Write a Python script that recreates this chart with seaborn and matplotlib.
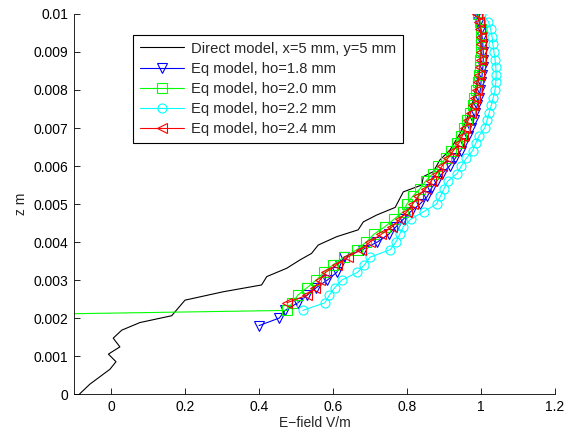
import matplotlib
matplotlib.use("Agg")
import matplotlib.pyplot as plt
import seaborn as sns
import pandas as pd
from matplotlib.ticker import FuncFormatter

# Direct model
direct_x = [-0.085, -0.057, -0.003, 0.0135, -0.007, 0.024, 0.006, 0.029, 0.078, 0.164,
            0.200, 0.303, 0.407, 0.421, 0.475, 0.511, 0.542, 0.560, 0.610, 0.668,
            0.682, 0.718, 0.768, 0.790, 0.840, 0.844, 0.871, 0.889, 0.916, 0.940,
            0.960, 0.975, 0.985, 0.995, 1.000, 1.000, 0.995]
direct_z = [0.0, 0.00026, 0.00065, 0.00085, 0.00105, 0.00124, 0.00147, 0.00168, 0.00188, 0.00206,
            0.00247, 0.00269, 0.00287, 0.00309, 0.00331, 0.00353, 0.0037, 0.00392, 0.00414, 0.00432,
            0.00453, 0.00471, 0.00491, 0.00532, 0.0055, 0.00572, 0.00585, 0.00616, 0.00642, 0.0068,
            0.0072, 0.0076, 0.0080, 0.0085, 0.0090, 0.0095, 0.0100]

# Eq model ho=1.8 mm
h18_x = [0.400, 0.455, 0.470, 0.505, 0.530, 0.555, 0.585, 0.610, 0.620, 0.630,
         0.680, 0.720, 0.750, 0.770, 0.790, 0.810, 0.835, 0.855, 0.865, 0.880,
         0.895, 0.915, 0.930, 0.945, 0.955, 0.965, 0.972, 0.980, 0.985, 0.990,
         0.995, 0.998, 1.000, 1.003, 1.005, 1.006, 1.006, 1.005, 1.003, 1.000,
         0.995, 0.988]
h18_z = [0.0018, 0.0020, 0.0022, 0.0024, 0.0026, 0.0028, 0.0030, 0.0032, 0.0034, 0.0036,
         0.0038, 0.0040, 0.0042, 0.0044, 0.0046, 0.0048, 0.0050, 0.0052, 0.0054, 0.0056,
         0.0058, 0.0060, 0.0062, 0.0064, 0.0066, 0.0068, 0.0070, 0.0072, 0.0074, 0.0076,
         0.0078, 0.0080, 0.0082, 0.0084, 0.0086, 0.0088, 0.0090, 0.0092, 0.0094, 0.0096,
         0.0098, 0.0100]

# Eq model ho=2.0 mm
h20_x = [-0.850, 0.475, 0.490, 0.505, 0.530, 0.555, 0.575, 0.600, 0.630, 0.665,
         0.690, 0.710, 0.740, 0.765, 0.790, 0.800, 0.815, 0.835, 0.850, 0.870,
         0.885, 0.905, 0.920, 0.935, 0.945, 0.955, 0.963, 0.970, 0.977, 0.982,
         0.987, 0.991, 0.994, 0.996, 0.998, 0.999, 1.000, 1.000, 0.999, 0.997,
         0.993]
h20_z = [0.0020, 0.0022, 0.0024, 0.0026, 0.0028, 0.0030, 0.0032, 0.0034, 0.0036, 0.0038,
         0.0040, 0.0042, 0.0044, 0.0046, 0.0048, 0.0050, 0.0052, 0.0054, 0.0056, 0.0058,
         0.0060, 0.0062, 0.0064, 0.0066, 0.0068, 0.0070, 0.0072, 0.0074, 0.0076, 0.0078,
         0.0080, 0.0082, 0.0084, 0.0086, 0.0088, 0.0090, 0.0092, 0.0094, 0.0096, 0.0098,
         0.0100]

# Eq model ho=2.2 mm
h22_x = [0.518, 0.578, 0.590, 0.605, 0.624, 0.666, 0.685, 0.700, 0.755, 0.770,
         0.780, 0.790, 0.810, 0.845, 0.880, 0.890, 0.900, 0.910, 0.935, 0.947,
         0.960, 0.977, 0.986, 0.995, 1.010, 1.016, 1.022, 1.028, 1.033, 1.038,
         1.040, 1.041, 1.040, 1.038, 1.035, 1.032, 1.030, 1.026, 1.020, 1.000]
h22_z = [0.0022, 0.0024, 0.0026, 0.0028, 0.0030, 0.0032, 0.0034, 0.0036, 0.0038, 0.0040,
         0.0042, 0.0044, 0.0046, 0.0048, 0.0050, 0.0052, 0.0054, 0.0056, 0.0058, 0.0060,
         0.0062, 0.0064, 0.0066, 0.0068, 0.0070, 0.0072, 0.0074, 0.0076, 0.0078, 0.0080,
         0.0082, 0.0084, 0.0086, 0.0088, 0.0090, 0.0092, 0.0094, 0.0096, 0.0098, 0.0100]

# Eq model ho=2.4 mm
h24_x = [0.475, 0.530, 0.550, 0.565, 0.580, 0.610, 0.640, 0.675, 0.700, 0.730,
         0.760, 0.780, 0.800, 0.815, 0.830, 0.850, 0.865, 0.880, 0.895, 0.910,
         0.925, 0.940, 0.950, 0.958, 0.965, 0.972, 0.978, 0.984, 0.988, 0.992,
         0.995, 0.997, 0.999, 1.000, 1.000, 1.000, 0.998, 0.995, 0.990]
h24_z = [0.0024, 0.0026, 0.0028, 0.0030, 0.0032, 0.0034, 0.0036, 0.0038, 0.0040, 0.0042,
         0.0044, 0.0046, 0.0048, 0.0050, 0.0052, 0.0054, 0.0056, 0.0058, 0.0060, 0.0062,
         0.0064, 0.0066, 0.0068, 0.0070, 0.0072, 0.0074, 0.0076, 0.0078, 0.0080, 0.0082,
         0.0084, 0.0086, 0.0088, 0.0090, 0.0092, 0.0094, 0.0096, 0.0098, 0.0100]

labels = ["Direct model, x=5 mm, y=5 mm", "Eq model, ho=1.8 mm", "Eq model, ho=2.0 mm",
          "Eq model, ho=2.2 mm", "Eq model, ho=2.4 mm"]
xticks = [0, 0.2, 0.4, 0.6, 0.8, 1.0, 1.2]
yticks = [0, 0.001, 0.002, 0.003, 0.004, 0.005, 0.006, 0.007, 0.008, 0.009, 0.01]

sns.set_theme(style="ticks")
plt.rcParams['font.family'] = ['Liberation Sans', 'DejaVu Sans']

fig = plt.figure(figsize=(5.71, 4.36), dpi=100)
ax = fig.add_axes([0.1296, 0.0963, 0.8424, 0.8716])

series = [
    (direct_x, direct_z, "black", None),
    (h18_x, h18_z, "blue", "v"),
    (h20_x, h20_z, "#00ff00", "s"),
    (h22_x, h22_z, "cyan", "o"),
    (h24_x, h24_z, "red", "<"),
]
for (xs, zs, col, mk), lab in zip(series, labels):
    df = pd.DataFrame({"E": xs, "z": zs})
    kw = dict(color=col, linewidth=0.8, label=lab)
    if mk:
        kw.update(marker=mk, markersize=6.5, markerfacecolor="none",
                  markeredgecolor=col, markeredgewidth=0.8)
    sns.lineplot(data=df, x="E", y="z", sort=False, estimator=None, ax=ax, **kw)

ax.set_xlim(-0.1, 1.2)
ax.set_ylim(0, 0.01)
ax.set_xticks(xticks)
ax.set_yticks(yticks)
fmt = FuncFormatter(lambda v, p: "%g" % round(v, 6))
ax.xaxis.set_major_formatter(fmt)
ax.yaxis.set_major_formatter(fmt)
ax.tick_params(direction="in", length=4, width=0.6, labelsize=10, colors="black", pad=4)
for s in ["top", "right"]:
    ax.spines[s].set_visible(False)
for s in ["left", "bottom"]:
    ax.spines[s].set_color("black")
    ax.spines[s].set_linewidth(0.6)
ax.set_xlabel("E\u2212field V/m", fontsize=10, labelpad=2)
ax.set_ylabel("z m", fontsize=10, labelpad=4)

leg = ax.legend(loc="upper left", bbox_to_anchor=(0.1227, 0.945), fontsize=10.6,
                frameon=True, fancybox=False, edgecolor="black", framealpha=1,
                handlelength=3.0, handletextpad=0.5, labelspacing=0.42,
                borderaxespad=0, borderpad=0.45)
leg.get_frame().set_linewidth(0.8)

fig.savefig("out.png", dpi=100)
